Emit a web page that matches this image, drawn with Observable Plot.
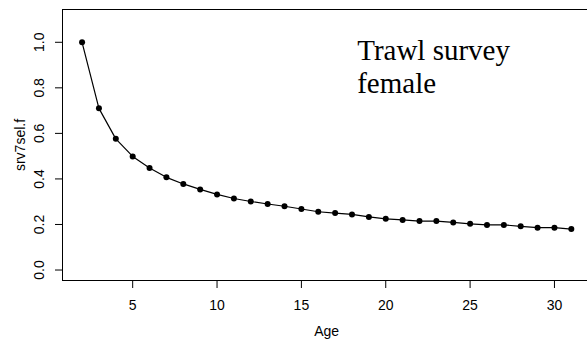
<!DOCTYPE html>
<html>
<head>
<meta charset="utf-8">
<script src="https://cdn.jsdelivr.net/npm/d3@7"></script>
<script src="https://cdn.jsdelivr.net/npm/@observablehq/plot@0.6"></script>
<style>
  html, body { margin: 0; padding: 0; background: #fff; overflow: hidden; }
  #chart { width: 587px; height: 345px; overflow: hidden; }
  #chart svg { display: block; max-width: none !important; width: 600px !important; height: 345px !important; }
</style>
</head>
<body>
<div id="chart"></div>
<script>
const ages = [2,3,4,5,6,7,8,9,10,11,12,13,14,15,16,17,18,19,20,21,22,23,24,25,26,27,28,29,30,31];
const sel  = [1.000,0.710,0.576,0.499,0.448,0.407,0.378,0.354,0.332,0.314,0.301,0.290,0.280,0.268,0.256,0.250,0.244,0.233,0.225,0.220,0.215,0.215,0.209,0.203,0.198,0.198,0.192,0.186,0.186,0.180];
const xTicks = [5,10,15,20,25,30];
const yTicks = [0,0.2,0.4,0.6,0.8,1.0];
const xLabel = "Age";
const yLabel = "srv7sel.f";
const annotation = "Trawl survey\nfemale";

const data = ages.map((a, i) => ({age: a, v: sel[i]}));
const sans = "'Liberation Sans', Arial, Helvetica, sans-serif";

const chart = Plot.plot({
  width: 600,
  height: 345,
  marginLeft: 62,
  marginTop: 9,
  marginBottom: 65,
  marginRight: 9.6,
  style: {fontFamily: sans, fontSize: "14px", color: "#000", background: "#fff", maxWidth: "none"},
  x: {domain: [0.84, 32.16]},
  y: {domain: [-0.046, 1.144]},
  marks: [
    Plot.frame({stroke: "#000", strokeWidth: 1}),
    Plot.axisX({ticks: xTicks, tickSize: 8, tickPadding: 12, fontSize: 14,
      label: xLabel, labelAnchor: "center", labelOffset: 55, labelArrow: "none"}),
    Plot.axisY({ticks: yTicks, tickSize: 7, tickPadding: 12, tickRotate: -90,
      tickFormat: d3.format(".1f"), fontSize: 14,
      label: yLabel, labelAnchor: "center", labelOffset: 47, labelArrow: "none"}),
    Plot.line(data, {x: "age", y: "v", stroke: "#000", strokeWidth: 1.2}),
    Plot.dot(data, {x: "age", y: "v", r: 3, fill: "#000", stroke: "none"}),
    Plot.text([annotation], {text: d => d, frameAnchor: "top-left", dx: 294.7, dy: 27,
      lineAnchor: "top", textAnchor: "start", lineHeight: 1.138,
      fontFamily: "'Liberation Serif', 'Times New Roman', serif", fontSize: 29, fill: "#000"})
  ]
});
document.getElementById("chart").appendChild(chart);
</script>
</body>
</html>
